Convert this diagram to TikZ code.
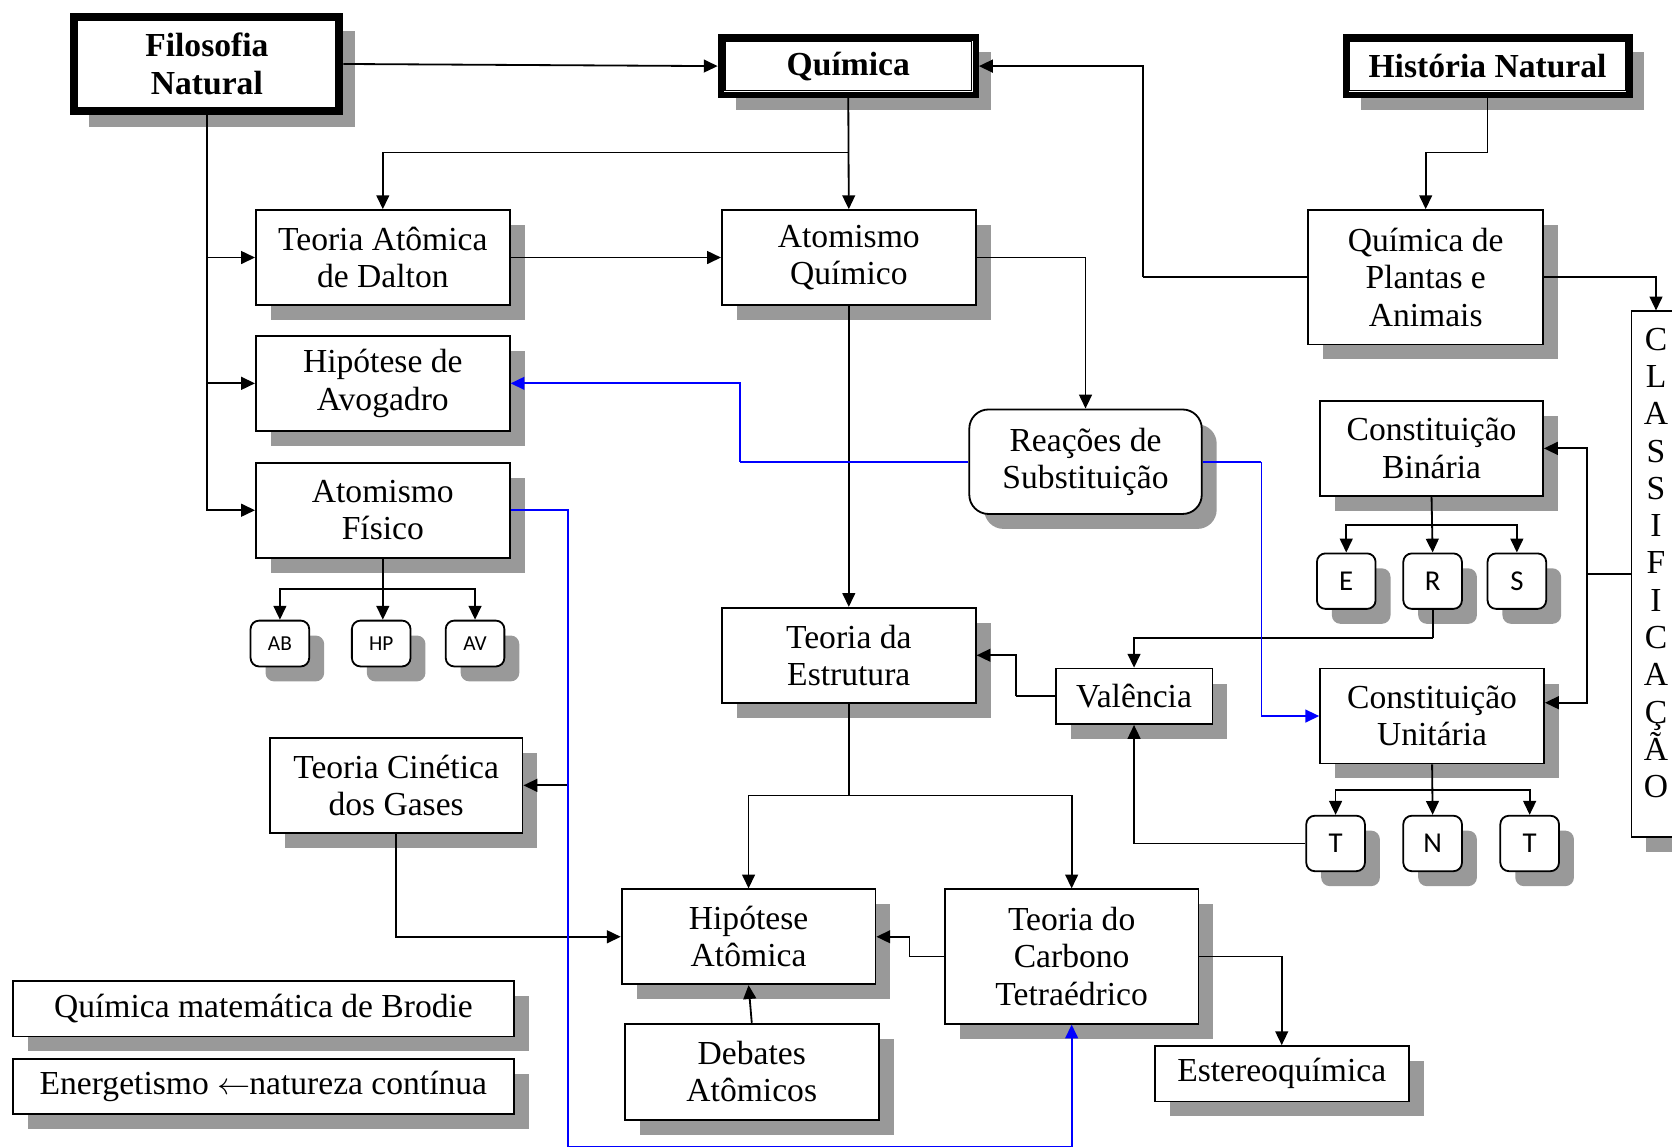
\documentclass[tikz,border=0pt]{standalone}
\usepackage{fontspec}
\setmainfont{Liberation Serif}
\newfontfamily\sansf{Carlito}
\usetikzlibrary{arrows.meta,shadows,calc}
\begin{document}
\begin{tikzpicture}[x=1pt,y=-1pt,
  shd/.style={drop shadow={shadow xshift=14pt,shadow yshift=-14pt,fill=black!40,opacity=1,draw=none}},
  wh/.style 2 args={minimum width=#1,minimum height=#2},
  box/.style={draw=black,line width=1.7pt,fill=white,shd,inner sep=0pt,align=center,font=\fontsize{31.5}{35}\selectfont},
  titlebox/.style={draw=black,line width=6pt,fill=white,shd,inner sep=0pt,align=center,font=\fontsize{31.5}{35}\selectfont\bfseries},
  rbox/.style={box,rounded corners=18pt},
  sbox/.style={draw=black,line width=1.7pt,fill=white,shd,rounded corners=8pt,inner sep=0pt,minimum width=55pt,minimum height=52pt,font=\sansf\fontsize{27}{30}\selectfont},
  ssbox/.style={sbox,minimum height=43pt,font=\sansf\fontsize{20}{24}\selectfont},
  arr/.style={draw=black,line width=1.7pt,-{Triangle[length=13pt,width=12pt]}},
  ln/.style={draw=black,line width=1.7pt},
  barr/.style={draw=blue,line width=1.7pt,-{Triangle[length=13pt,width=12pt]}},
  bln/.style={draw=blue,line width=1.7pt},
]
\useasboundingbox (0,0) rectangle (1568,1075);
\fill[white] (0,0) rectangle (1568,1075);

% title boxes
\node[titlebox,wh={250pt}{90pt}] (fil) at (194,60) {Filosofia\\Natural};
\node[titlebox,wh={239pt}{54pt}] (qui) at (795.5,62) {Química};
\node[titlebox,wh={266pt}{54pt}] (hn) at (1395,62) {História Natural};
\foreach \n in {fil,qui,hn}
  \draw[line width=1.2pt] ([xshift=6.8pt,yshift=-6.8pt]\n.north west) rectangle ([xshift=-6.8pt,yshift=6.8pt]\n.south east);

% main boxes
\node[box,wh={238pt}{89pt}] (dalton) at (359,241.5) {Teoria Atômica\\de Dalton};
\node[box,wh={238pt}{89pt}] (aq) at (796,241.5) {Atomismo\\Químico};
\node[box,wh={220pt}{126pt}] (qpa) at (1337,260) {Química de\\Plantas e\\Animais};
\node[box,wh={46pt}{493pt}] (cls) at (1553,538.5) {};
\node[align=center,inner sep=0pt,font=\fontsize{31.5}{35}\selectfont] (clstxt) at (1553,528) {C\\L\\A\\S\\S\\I\\F\\I\\C\\A\\Ç\\Ã\\O};
\node[box,wh={238pt}{89pt}] (avo) at (359,359.5) {Hipótese de\\Avogadro};
\node[box,wh={238pt}{89pt}] (fis) at (359,478.5) {Atomismo\\Físico};
\node[rbox,wh={218pt}{98pt}] (reac) at (1018,433) {Reações de\\Substituição};
\node[box,wh={209pt}{89pt}] (bin) at (1342.5,420.5) {Constituição\\Binária};
\node[sbox] (E) at (1262.5,545) {E};
\node[sbox] (R) at (1343.5,545) {R};
\node[sbox] (S) at (1422.5,545) {S};
\node[ssbox] (AB) at (262.5,603.5) {AB};
\node[ssbox] (HP) at (357.5,603.5) {HP};
\node[ssbox] (AV) at (445.5,603.5) {AV};
\node[box,wh={238pt}{89pt}] (est) at (796,614.5) {Teoria da\\Estrutura};
\node[box,wh={147pt}{52pt}] (val) at (1063.5,653) {Valência};
\node[box,wh={210pt}{89pt}] (uni) at (1343,671.5) {Constituição\\Unitária};
\node[sbox] (T1) at (1252.5,791) {T};
\node[sbox] (N) at (1343.5,791) {N};
\node[sbox] (T2) at (1434.5,791) {T};
\node[box,wh={237pt}{89pt}] (tcg) at (371.5,736.5) {Teoria Cinética\\dos Gases};
\node[box,wh={238pt}{89pt}] (ha) at (702,878.5) {Hipótese\\Atômica};
\node[box,wh={238pt}{126pt}] (carb) at (1005,897) {Teoria do\\Carbono\\Tetraédrico};
\node[box,wh={238pt}{90pt}] (deb) at (705,1005) {Debates\\Atômicos};
\node[box,wh={238pt}{52pt}] (stereo) at (1202,1007) {Estereoquímica};
\node[box,wh={470pt}{52pt}] (brod) at (247,946) {Química matemática de Brodie};
\node[box,wh={470pt}{52pt}] (ener) at (247,1019) {Energetismo \scalebox{1.25}[1.15]{\(\leftarrow\)}\kern-1pt natureza contínua};

% junction coordinates
\coordinate (j1) at (796,143);
\coordinate (j2) at (1395,143);
\coordinate (j3) at (1072,260);
\coordinate (j4) at (1488,538.5);
\coordinate (j5) at (1342.5,492);
\coordinate (j6) at (1343.5,598);
\coordinate (j7) at (953,653);
\coordinate (j8) at (1343,741);
\coordinate (j9) at (796,746);
\coordinate (j10) at (853,897);
\coordinate (j11) at (357,552);
\coordinate (b1) at (694,433);
\coordinate (b2) at (1183,433);
\coordinate (b3) at (533,478.5);
\coordinate (b4) at (533,1076);
\coordinate (b5) at (1005,1076);
\coordinate (b6) at (533,736.5);

% black connectors
\draw[arr] (fil.east) -- (qui.west);
\draw[arr] (qui.south) -- (aq.north);
\draw[arr] (j1) -| (dalton.north);
\draw[arr] (fil.south) |- (fis.west);
\draw[arr] (fil.south |- dalton.west) -- (dalton.west);
\draw[arr] (fil.south |- avo.west) -- (avo.west);
\draw[arr] (dalton.east) -- (aq.west);
\draw[arr] (aq.east) -| (reac.north);
\draw[arr] (aq.south) -- (est.north);
\draw[ln] (hn.south) -- (j2);
\draw[arr] (j2) -| (qpa.north);
\draw[ln] (qpa.west) -- (j3);
\draw[arr] (j3) |- (qui.east);
\draw[arr] (qpa.east) -| (cls.north);
\draw[ln] (cls.west) -- (j4);
\draw[arr] (j4) |- (bin.east);
\draw[arr] (j4) |- ([yshift=12.5pt]uni.east);
\draw[arr] (bin.south) -- (R.north);
\draw[arr] (j5) -| (E.north);
\draw[arr] (j5) -| (S.north);
\draw[ln] (R.south) -- (j6);
\draw[arr] (j6) -| (val.north);
\draw[ln] (val.west) -- (j7);
\draw[arr] (j7) |- (est.east);
\draw[arr] (uni.south) -- (N.north);
\draw[arr] (j8) -| (T1.north);
\draw[arr] (j8) -| (T2.north);
\draw[arr] (T1.west) -| (val.south);
\draw[arr] (fis.south) -- (fis.south |- HP.north);
\draw[arr] (j11) -| (AB.north);
\draw[arr] (j11) -| (AV.north);
\draw[ln] (est.south) -- (j9);
\draw[arr] (j9) -| (ha.north);
\draw[arr] (j9) -| (carb.north);
\draw[ln] (carb.west) -- (j10);
\draw[arr] (j10) |- (ha.east);
\draw[arr] (deb.north) -- (ha.south);
\draw[arr] (tcg.south) |- (ha.west);
\draw[arr] (carb.east) -| (stereo.north);
\draw[arr] (b6) -- (tcg.east);

% blue connectors
\draw[bln] (reac.west) -- (b1);
\draw[barr] (b1) |- (avo.east);
\draw[bln] (reac.east) -- (b2);
\draw[barr] (b2) |- (uni.west);
\draw[bln] (fis.east) -- (b3) -- (b4) -- (b5);
\draw[barr] (b5) -- (carb.south);
\end{tikzpicture}
\end{document}
